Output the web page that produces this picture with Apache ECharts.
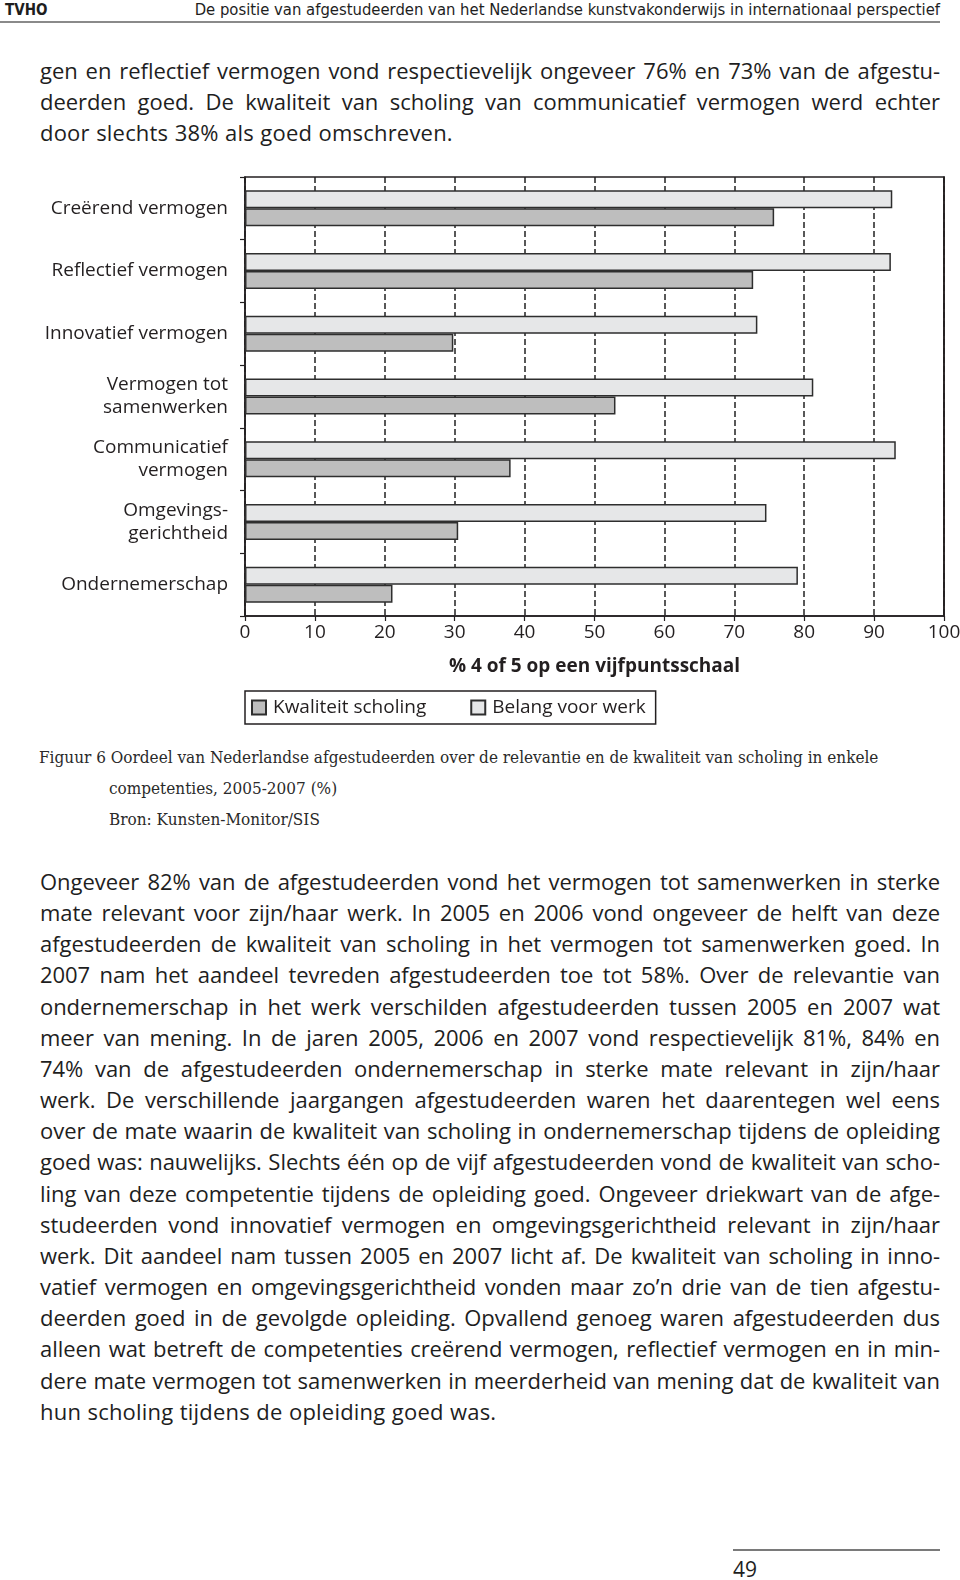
<!DOCTYPE html>
<html>
<head>
<meta charset="utf-8">
<script src="https://cdn.jsdelivr.net/npm/echarts@6/dist/echarts.min.js"></script>
<style>
  html, body { margin:0; padding:0; background:#fff; }
  body { width:960px; height:1580px; position:relative; overflow:hidden; color:#1e1e1e; }
  .hdr-left { position:absolute; left:5px; top:1px; font-family:"Liberation Sans Narrow","DejaVu Sans Condensed","DejaVu Sans"; font-stretch:condensed; font-weight:bold; font-size:15px; line-height:18px; }
  .hdr-right { position:absolute; right:20px; top:0px; font-family:"Liberation Sans Narrow","DejaVu Sans Condensed","DejaVu Sans"; font-stretch:condensed; font-size:16.5px; line-height:20px; white-space:nowrap; }
  .hdr-rule { position:absolute; left:0; top:21px; width:940px; height:2px; background:#8a8a8a; }
  .body { position:absolute; left:40px; width:900px; font-family:"Open Sans","Noto Sans",sans-serif; font-size:22px; line-height:31.15px; word-spacing:-1.5px; }
  .body div { white-space:nowrap; text-align:justify; text-align-last:justify; }
  .body div.last { text-align:left; text-align-last:left; word-spacing:0.5px; letter-spacing:0.2px; }
  .cap { position:absolute; font-family:"DejaVu Serif","Liberation Serif",serif; font-stretch:condensed; font-size:17px; white-space:nowrap; color:#2a2a2a; }
  #chart { position:absolute; left:0; top:160px; width:960px; height:580px; }
  .foot-rule { position:absolute; left:733px; top:1549px; width:207px; height:2px; background:#7a7a7a; }
  .pnum { position:absolute; left:733px; top:1556px; font-family:"Open Sans","Noto Sans",sans-serif; font-size:21px; line-height:26px; }
</style>
</head>
<body>
<div class="hdr-left">TVHO</div>
<div class="hdr-right">De positie van afgestudeerden van het Nederlandse kunstvakonderwijs in internationaal perspectief</div>
<div class="hdr-rule"></div>

<div class="body" style="top:55px;">
  <div>gen en reflectief vermogen vond respectievelijk ongeveer 76% en 73% van de afgestu-</div>
  <div>deerden goed. De kwaliteit van scholing van communicatief vermogen werd echter</div>
  <div class="last">door slechts 38% als goed omschreven.</div>
</div>

<div id="chart"></div>

<div class="cap" style="left:39px; top:747px;">Figuur 6 Oordeel van Nederlandse afgestudeerden over de relevantie en de kwaliteit van scholing in enkele</div>
<div class="cap" style="left:109px; top:778px;">competenties, 2005-2007 (%)</div>
<div class="cap" style="left:109px; top:809px;">Bron: Kunsten-Monitor/SIS</div>

<div class="body" style="top:866px;">
  <div>Ongeveer 82% van de afgestudeerden vond het vermogen tot samenwerken in sterke</div>
  <div>mate relevant voor zijn/haar werk. In 2005 en 2006 vond ongeveer de helft van deze</div>
  <div>afgestudeerden de kwaliteit van scholing in het vermogen tot samenwerken goed. In</div>
  <div>2007 nam het aandeel tevreden afgestudeerden toe tot 58%. Over de relevantie van</div>
  <div>ondernemerschap in het werk verschilden afgestudeerden tussen 2005 en 2007 wat</div>
  <div>meer van mening. In de jaren 2005, 2006 en 2007 vond respectievelijk 81%, 84% en</div>
  <div>74% van de afgestudeerden ondernemerschap in sterke mate relevant in zijn/haar</div>
  <div>werk. De verschillende jaargangen afgestudeerden waren het daarentegen wel eens</div>
  <div>over de mate waarin de kwaliteit van scholing in ondernemerschap tijdens de opleiding</div>
  <div>goed was: nauwelijks. Slechts één op de vijf afgestudeerden vond de kwaliteit van scho-</div>
  <div>ling van deze competentie tijdens de opleiding goed. Ongeveer driekwart van de afge-</div>
  <div>studeerden vond innovatief vermogen en omgevingsgerichtheid relevant in zijn/haar</div>
  <div>werk. Dit aandeel nam tussen 2005 en 2007 licht af. De kwaliteit van scholing in inno-</div>
  <div>vatief vermogen en omgevingsgerichtheid vonden maar zo’n drie van de tien afgestu-</div>
  <div>deerden goed in de gevolgde opleiding. Opvallend genoeg waren afgestudeerden dus</div>
  <div>alleen wat betreft de competenties creërend vermogen, reflectief vermogen en in min-</div>
  <div>dere mate vermogen tot samenwerken in meerderheid van mening dat de kwaliteit van</div>
  <div class="last">hun scholing tijdens de opleiding goed was.</div>
</div>

<div class="foot-rule"></div>
<div class="pnum">49</div>

<script>
// keep every justified text line inside its 900px column
document.querySelectorAll('.body div').forEach(function (line) {
  const probe = document.createElement('span');
  probe.textContent = line.textContent;
  probe.style.whiteSpace = 'nowrap';
  line.textContent = '';
  line.appendChild(probe);
  const w = probe.getBoundingClientRect().width;
  if (w > 896) {
    const n = probe.textContent.length;
    line.style.letterSpacing = ((896 - w) / n).toFixed(3) + 'px';
  }
});

const categories = [
  'Creërend vermogen',
  'Reflectief vermogen',
  'Innovatief vermogen',
  'Vermogen tot\nsamenwerken',
  'Communicatief\nvermogen',
  'Omgevings-\ngerichtheid',
  'Ondernemerschap'
];
const belangVoorWerk = [92.6, 92.4, 73.3, 81.3, 93.1, 74.6, 79.1];
const kwaliteitScholing = [75.7, 72.7, 29.8, 53.0, 38.0, 30.5, 21.1];
const axisTitle = '% 4 of 5 op een vijfpuntsschaal';
const legendNames = ['Kwaliteit scholing', 'Belang voor werk'];

const ink = '#231f20';
const labelFont = '"Open Sans","Noto Sans",sans-serif';

const chart = echarts.init(document.getElementById('chart'), null, {renderer: 'canvas'});
chart.setOption({
  animation: false,
  grid: {
    left: 245, right: 16, top: 17, height: 439,
    containLabel: false, outerBoundsMode: 'none',
    show: true, borderColor: ink, borderWidth: 1.5, backgroundColor: 'transparent'
  },
  xAxis: {
    type: 'value', min: 0, max: 100, interval: 10,
    name: axisTitle, nameLocation: 'middle', nameGap: 41,
    nameTextStyle: { fontFamily: labelFont, fontSize: 19, fontWeight: 'bold', color: ink },
    axisLine: { show: true, lineStyle: { color: ink, width: 1.5 } },
    axisTick: { show: true, inside: false, length: 5, lineStyle: { color: ink, width: 1.2 } },
    axisLabel: { margin: 7, fontFamily: labelFont, fontSize: 19, color: ink, hideOverlap: false },
    splitLine: { show: true, lineStyle: { color: '#222', width: 1.5, type: [6, 3] } }
  },
  yAxis: [
    {
      type: 'category', data: categories, inverse: true,
      axisLine: { show: true, lineStyle: { color: ink, width: 1.5 } },
      axisTick: { show: true, inside: false, length: 5, lineStyle: { color: ink, width: 1.2 } },
      axisLabel: { margin: 17, fontFamily: labelFont, fontSize: 19, color: ink, lineHeight: 23, align: 'right' },
      splitLine: { show: false }
    },
    {
      type: 'category', data: categories, inverse: true, position: 'right',
      axisLine: { show: true, lineStyle: { color: ink, width: 1.6 } },
      axisTick: { show: false }, axisLabel: { show: false }, splitLine: { show: false }
    }
  ],
  legend: {
    data: legendNames,
    left: 245, top: 531,
    orient: 'horizontal',
    borderColor: ink, borderWidth: 1.5, borderRadius: 0,
    padding: [7, 10, 7, 6],
    itemWidth: 14, itemHeight: 14, itemGap: 44,
    icon: 'rect',
    textStyle: { fontFamily: labelFont, fontSize: 19, color: ink, padding: [0, 0, 0, 2] }
  },
  series: [
    {
      name: 'Belang voor werk', type: 'bar', data: belangVoorWerk,
      barWidth: 18, barGap: '0%',
      itemStyle: { color: '#e6e7e8', borderColor: '#2e2e2e', borderWidth: 1.5 }
    },
    {
      name: 'Kwaliteit scholing', type: 'bar', data: kwaliteitScholing,
      barWidth: 18, barGap: '0%',
      itemStyle: { color: '#bebebe', borderColor: '#2e2e2e', borderWidth: 1.5 }
    }
  ]
});
</script>
</body>
</html>
